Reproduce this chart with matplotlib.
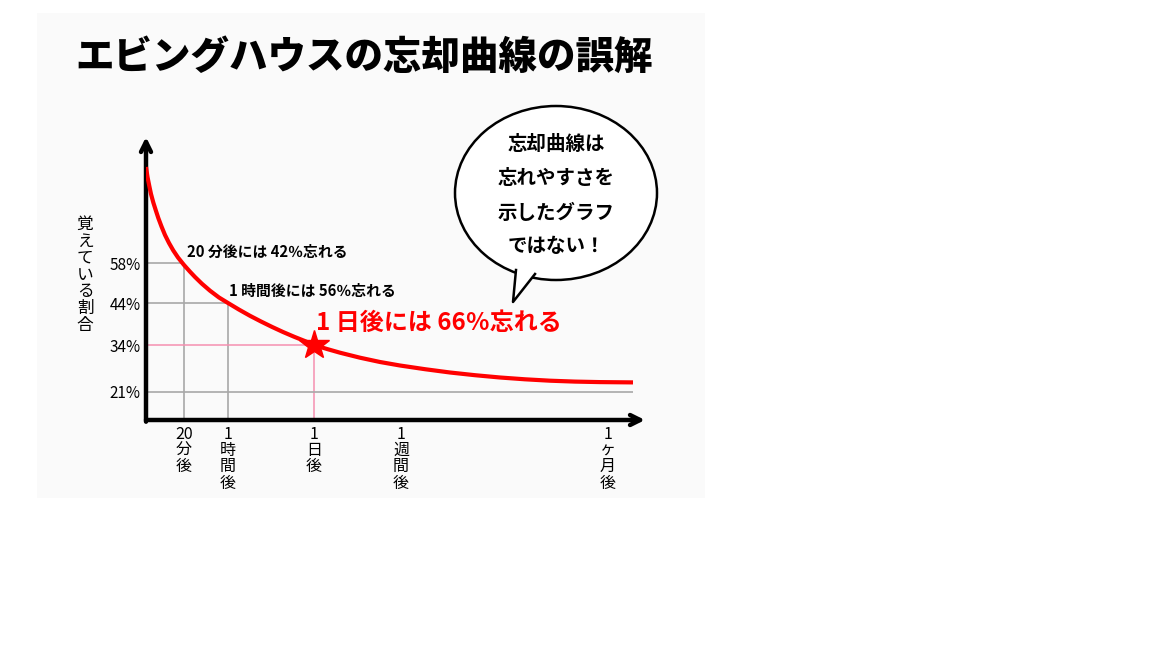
import matplotlib
matplotlib.use("Agg")
import matplotlib.pyplot as plt
from matplotlib.patches import Ellipse, Polygon, Rectangle

plt.rcParams['font.family'] = ['Noto Sans CJK JP', 'DejaVu Sans']

# ---- data (illustration units) ----
title = "エビングハウスの忘却曲線の誤解"
ylabel = "覚えている割合"
time_labels = ["20\n分\n後", "1\n時\n間\n後", "1\n日\n後", "1\n週\n間\n後", "1\nヶ\n月\n後"]
time_pos = [38, 82, 168, 255, 462]
pct_labels = ["21%", "34%", "44%", "58%"]
pct_level = [28, 75, 117, 157]
curve_pos = [0, 1.5, 3.3, 5, 7.3, 10, 12.3, 15.5, 19, 23, 27.3, 32, 38, 44, 49, 56,
             64, 73, 82, 93, 104, 115, 126, 137, 148, 159, 168, 181, 194, 214, 234,
             254, 279, 304, 329, 354, 379, 404, 429, 454, 487]
curve_level = [253, 243, 234, 226, 217.5, 209, 202, 193.5, 185, 177, 169.5, 162.5,
               155, 148.3, 143, 136.2, 129.3, 122.5, 117, 110.4, 104.2, 98.5, 93.1,
               88, 83.3, 78.9, 75, 71, 67.3, 62.3, 58, 54.5, 50.8, 47.5, 44.8, 42.5,
               40.7, 39.3, 38.4, 37.9, 37.6]
note_20min = "20 分後には 42％忘れる"
note_1h = "1 時間後には 56％忘れる"
note_1day = "1 日後には 66％忘れる"
bubble_lines = ["忘却曲線は", "忘れやすさを", "示したグラフ", "ではない！"]

W, H = 1152, 648
fig = plt.figure(figsize=(W / 100, H / 100), dpi=100)
fig.patch.set_facecolor('white')
bg = Rectangle((37 / W, 1 - 498 / H), (705 - 37) / W, (498 - 13) / H,
               transform=fig.transFigure, facecolor='#fafafa',
               edgecolor='none', zorder=-5)
fig.patches.append(bg)

ax = fig.add_axes([146 / W, (H - 420) / H, 499 / W, 283 / H], zorder=2)
ax.set_xlim(0, 499)
ax.set_ylim(0, 283)
ax.patch.set_alpha(0)
for s in ax.spines.values():
    s.set_visible(False)

# axes arrows
ax.annotate('', xy=(1, 0), xytext=(0, 0), xycoords='axes fraction',
            arrowprops=dict(arrowstyle='->', lw=3.2, color='black', mutation_scale=18,
                            shrinkA=0, shrinkB=0), annotation_clip=False)
ax.annotate('', xy=(0, 1), xytext=(0, -0.006), xycoords='axes fraction',
            arrowprops=dict(arrowstyle='->', lw=3.2, color='black', mutation_scale=18,
                            shrinkA=0, shrinkB=0), annotation_clip=False)

# ticks
ax.set_xticks(time_pos, labels=time_labels)
ax.set_yticks(pct_level, labels=pct_labels)
ax.tick_params(axis='x', length=0, pad=4, labelsize=11.5)
ax.tick_params(axis='y', length=0, pad=4, labelsize=11)
for t in ax.get_xticklabels():
    t.set_linespacing(0.95)
    t.set_verticalalignment('top')

# guide lines
grey = '#a8a8a8'
pink = '#f590b0'
ax.hlines(pct_level[3], 0, time_pos[0], color=grey, lw=1.2, zorder=1)
ax.vlines(time_pos[0], 0, pct_level[3], color=grey, lw=1.2, zorder=1)
ax.hlines(pct_level[2], 0, time_pos[1], color=grey, lw=1.2, zorder=1)
ax.vlines(time_pos[1], 0, pct_level[2], color=grey, lw=1.2, zorder=1)
ax.hlines(pct_level[1], 0, time_pos[2], color=pink, lw=1.1, zorder=1)
ax.vlines(time_pos[2], 0, pct_level[1], color=pink, lw=1.1, zorder=1)
ax.hlines(pct_level[0], 0, curve_pos[-1], color=grey, lw=1.2, zorder=1)

# curve
ax.plot(curve_pos, curve_level, color='#ff0000', lw=3, solid_capstyle='butt',
        solid_joinstyle='round', zorder=3)
ax.plot([time_pos[2]], [pct_level[1]], marker='*', ms=22, color='#ff0000',
        markeredgecolor='#ff0000', zorder=4)

# notes
ax.text(41, 168, note_20min, fontsize=10.7, fontweight='bold', va='center', ha='left')
ax.text(83, 129, note_1h, fontsize=10.7, fontweight='bold', va='center', ha='left')
ax.text(170, 97, note_1day, fontsize=17.3, fontweight='bold', color='#ff0000',
        va='center', ha='left')

# y label (stacked vertical)
ax.text(-61, 145, "\n".join(ylabel), fontsize=12, ha='center', va='center',
        linespacing=0.98, clip_on=False)

# speech bubble
cx, cy = 410, 227
ell = Ellipse((cx, cy), 202, 174, facecolor='white', edgecolor='black', lw=1.8,
              zorder=5, clip_on=False)
ax.add_patch(ell)
tail = [(370, 150), (367, 118), (389, 146)]
ax.add_patch(Polygon(tail, closed=True, facecolor='white', edgecolor='none',
                     zorder=6, clip_on=False))
ax.plot([tail[0][0], tail[1][0], tail[2][0]], [tail[0][1], tail[1][1], tail[2][1]],
        color='black', lw=1.8, zorder=7, clip_on=False)
for i, line in enumerate(bubble_lines):
    ax.text(cx, 275 - i * 34, line, fontsize=14, fontweight='bold', ha='center',
            va='center', zorder=8, clip_on=False)

# title
fig.text(75 / W, 1 - 57 / H, title, fontsize=27.7, fontweight='heavy', ha='left',
         va='center')

fig.savefig('out.png', dpi=100)
